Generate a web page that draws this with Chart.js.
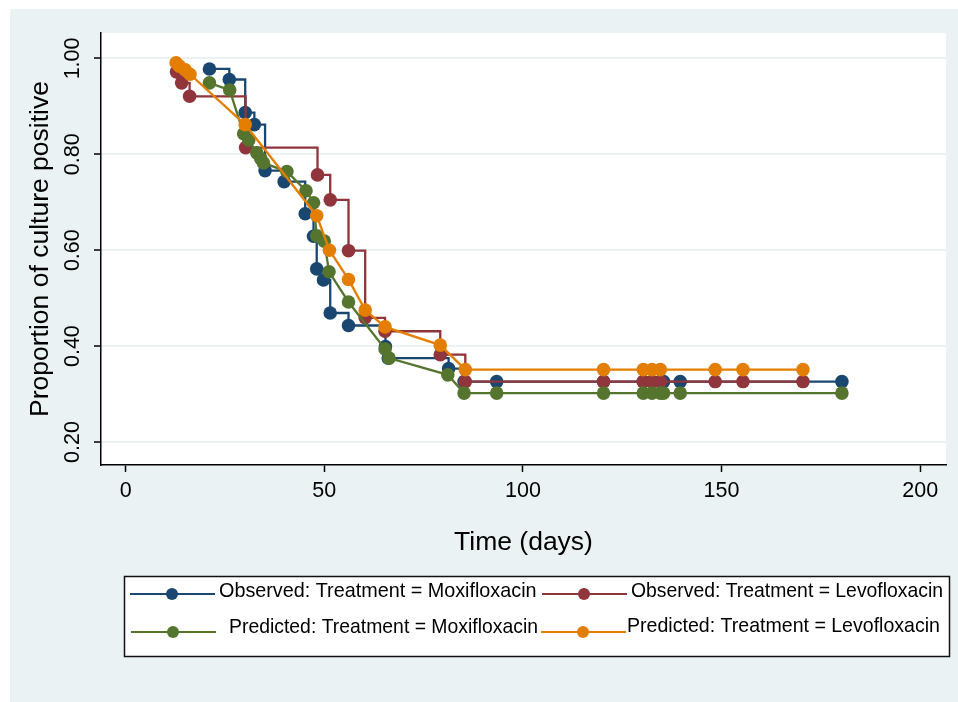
<!DOCTYPE html>
<html>
<head>
<meta charset="utf-8">
<script src="https://cdn.jsdelivr.net/npm/chart.js@4.4.1/dist/chart.umd.min.js"></script>
<style>
  html, body { margin: 0; padding: 0; background: #fff; }
  #wrap { width: 958px; height: 702px; }
</style>
</head>
<body>
<div id="wrap"><canvas id="km" width="958" height="702"></canvas></div>
<script>
// observed (Kaplan-Meier), moxifloxacin
const obsMoxiDays = [21.1, 26.1, 30.1, 32.4, 35.1, 39.9, 45.2, 47.3, 48.1, 49.8, 51.5, 56.1, 65.4, 66.1, 81.3, 85.2, 93.4, 120.3, 130.3, 132.5, 134.6, 135.4, 139.6, 180.3];
const obsMoxiProp = [0.978, 0.956, 0.887, 0.862, 0.766, 0.743, 0.676, 0.629, 0.561, 0.538, 0.469, 0.443, 0.399, 0.375, 0.353, 0.326, 0.326, 0.326, 0.326, 0.326, 0.326, 0.326, 0.326, 0.326];

// observed, levofloxacin
const obsLevoDays = [12.8, 14.1, 16.1, 30.2, 48.3, 51.5, 56.1, 60.3, 65.3, 79.2, 85.5, 120.3, 130.3, 132.5, 134.6, 148.4, 155.4, 170.5];
const obsLevoProp = [0.972, 0.949, 0.921, 0.814, 0.757, 0.705, 0.599, 0.459, 0.431, 0.382, 0.326, 0.326, 0.326, 0.326, 0.326, 0.326, 0.326, 0.326];

// predicted, moxifloxacin
const predMoxiDays = [21.1, 26.2, 29.7, 31.0, 33.0, 34.0, 34.7, 40.6, 45.4, 47.3, 48.1, 50.0, 51.2, 56.1, 65.3, 66.3, 81.1, 85.2, 93.4, 120.3, 130.3, 132.5, 134.6, 135.4, 139.6, 180.3];
const predMoxiProp = [0.949, 0.934, 0.843, 0.830, 0.803, 0.791, 0.782, 0.764, 0.724, 0.699, 0.630, 0.619, 0.555, 0.492, 0.394, 0.375, 0.340, 0.302, 0.302, 0.302, 0.302, 0.302, 0.302, 0.302, 0.302, 0.302];

// predicted, levofloxacin
const predLevoDays = [12.7, 13.5, 15.0, 16.2, 30.1, 48.1, 51.3, 56.1, 60.3, 65.3, 79.2, 85.5, 120.3, 130.3, 132.5, 134.6, 148.4, 155.4, 170.5];
const predLevoProp = [0.991, 0.984, 0.976, 0.967, 0.862, 0.672, 0.600, 0.539, 0.475, 0.440, 0.402, 0.351, 0.351, 0.351, 0.351, 0.351, 0.351, 0.351, 0.351];

const seriesNames = [
  "Observed: Treatment = Moxifloxacin",
  "Observed: Treatment = Levofloxacin",
  "Predicted: Treatment = Moxifloxacin",
  "Predicted: Treatment = Levofloxacin"
];
const xTicks = [0, 50, 100, 150, 200];
const yTicks = [0.2, 0.4, 0.6, 0.8, 1.0];

const colors = ["#1a476f", "#90353b", "#55752f", "#e37e00"];
const FONT = "'Liberation Sans', Arial, sans-serif";

function pts(days, prop) {
  return days.map((d, i) => ({ x: d, y: prop[i] }));
}

function series(i, days, prop, stepped) {
  return {
    label: seriesNames[i],
    data: pts(days, prop),
    borderColor: colors[i],
    backgroundColor: colors[i],
    borderWidth: 2.3,
    pointRadius: 6.8,
    pointHoverRadius: 6.8,
    pointBorderWidth: 0,
    stepped: stepped,
    tension: 0,
    fill: false,
    order: 4 - i   // first series drawn first, orange on top
  };
}

// stata style frame, rotated y labels, titles and the legend box
const stataLook = {
  id: "stataLook",
  beforeDraw(chart) {
    const ctx = chart.ctx, a = chart.chartArea;
    ctx.save();
    ctx.fillStyle = "#fff";
    ctx.fillRect(0, 0, chart.width, chart.height);
    ctx.fillStyle = "#eaf2f3";
    ctx.fillRect(10, 9, chart.width - 10, chart.height - 9);
    ctx.fillStyle = "#fff";
    ctx.fillRect(a.left, a.top, a.right - a.left, a.bottom - a.top);
    ctx.restore();
  },
  afterDraw(chart) {
    const ctx = chart.ctx, a = chart.chartArea;
    const ys = chart.scales.y;
    ctx.save();
    ctx.fillStyle = "#000";
    ctx.textAlign = "center";
    ctx.textBaseline = "middle";

    // y tick labels, turned like stata does
    ctx.font = "21.5px " + FONT;
    yTicks.forEach(v => {
      ctx.save();
      ctx.translate(73, ys.getPixelForValue(v));
      ctx.rotate(-Math.PI / 2);
      ctx.fillText(v.toFixed(2), 0, 0);
      ctx.restore();
    });

    // axis titles
    ctx.font = "26.5px " + FONT;
    ctx.save();
    ctx.translate(41, (a.top + a.bottom) / 2);
    ctx.rotate(-Math.PI / 2);
    ctx.fillText("Proportion of culture positive", 0, 0);
    ctx.restore();
    ctx.fillText("Time (days)", (a.left + a.right) / 2, 543);

    // legend
    ctx.fillStyle = "#fff";
    ctx.fillRect(124, 576, 825, 80);
    ctx.strokeStyle = "#111";
    ctx.lineWidth = 1.5;
    ctx.strokeRect(124.5, 576.5, 825, 80);

    const keys = [
      { x: 130, y: 594, tx: 219, ty: 592, w: 319 },
      { x: 542, y: 594, tx: 631, ty: 592, w: 312 },
      { x: 131, y: 632, tx: 229, ty: 628, w: 309 },
      { x: 541, y: 632, tx: 627, ty: 627, w: 313 }
    ];
    ctx.font = "19.8px " + FONT;
    ctx.textAlign = "left";
    keys.forEach((k, i) => {
      ctx.strokeStyle = colors[i];
      ctx.lineWidth = 2.2;
      ctx.beginPath();
      ctx.moveTo(k.x, k.y);
      ctx.lineTo(k.x + 85, k.y);
      ctx.stroke();
      ctx.fillStyle = colors[i];
      ctx.beginPath();
      ctx.arc(k.x + 42, k.y, 6, 0, Math.PI * 2);
      ctx.fill();
      ctx.fillStyle = "#000";
      ctx.fillText(seriesNames[i], k.tx, k.ty, k.w);
    });
    ctx.restore();
  }
};

new Chart(document.getElementById("km"), {
  type: "line",
  data: {
    datasets: [
      series(0, obsMoxiDays, obsMoxiProp, true),
      series(1, obsLevoDays, obsLevoProp, true),
      series(2, predMoxiDays, predMoxiProp, false),
      series(3, predLevoDays, predLevoProp, false)
    ]
  },
  options: {
    responsive: false,
    devicePixelRatio: 1,
    animation: false,
    layout: { padding: { top: 33, right: 12, left: 0, bottom: 0 } },
    plugins: {
      legend: { display: false },
      tooltip: { enabled: false }
    },
    scales: {
      x: {
        type: "linear",
        min: -6.2,
        max: 206.5,
        afterBuildTicks: s => { s.ticks = xTicks.map(v => ({ value: v })); },
        afterFit: s => { s.height = 237; },
        ticks: {
          color: "#000",
          font: { family: FONT, size: 21.5 },
          padding: 6,
          maxRotation: 0,
          callback: v => String(v)
        },
        grid: {
          drawOnChartArea: false,
          tickColor: "#000",
          tickLength: 7,
          tickWidth: 1.5
        },
        border: { color: "#000", width: 1.5 }
      },
      y: {
        type: "linear",
        min: 0.152,
        max: 1.053,
        afterBuildTicks: s => { s.ticks = yTicks.map(v => ({ value: v })); },
        afterFit: s => { s.width = 101; },
        ticks: { display: false },
        grid: {
          color: "#eaf2f3",
          lineWidth: 2,
          tickColor: "#000",
          tickLength: 7,
          tickWidth: 1.5
        },
        border: { color: "#000", width: 1.5 }
      }
    }
  },
  plugins: [stataLook]
});
</script>
</body>
</html>
